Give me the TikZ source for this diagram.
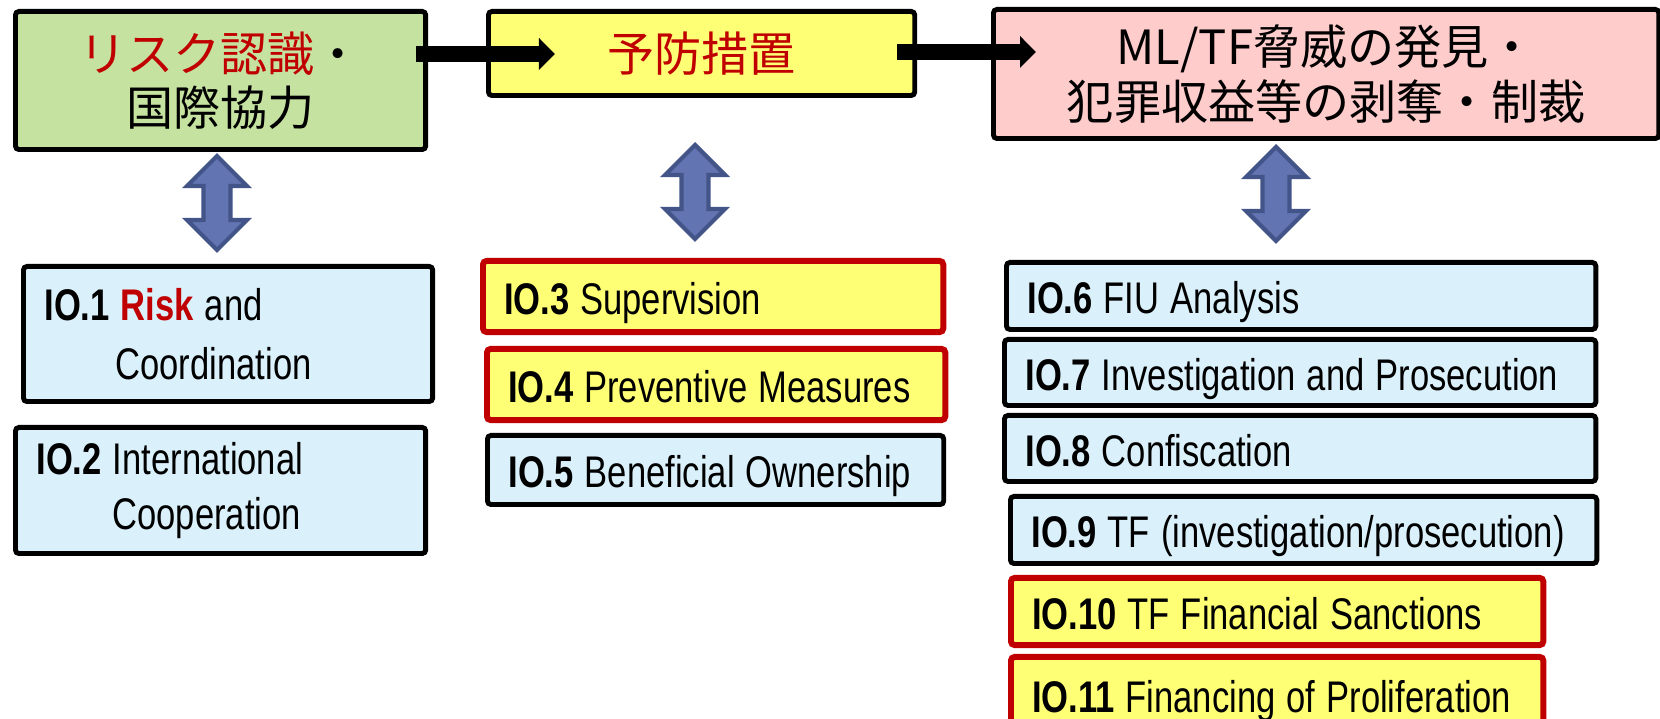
\documentclass[tikz,border=0pt]{standalone}
\usepackage{fontspec}
\usepackage{xcolor}
\usetikzlibrary{arrows.meta, positioning, calc}
\newfontfamily\jpfont{Noto Sans CJK JP}
\newfontfamily\iofont[FakeStretch=0.78]{Liberation Sans}
\definecolor{greenFill}{RGB}{197, 226, 160}
\definecolor{topYellow}{RGB}{255, 255, 117}
\definecolor{pinkFill}{RGB}{255, 204, 204}
\definecolor{ioBlue}{RGB}{218, 240, 250}
\definecolor{keyYellow}{RGB}{255, 255, 117}
\definecolor{riskRed}{RGB}{192, 0, 0}
\definecolor{arrowBlue}{RGB}{98, 117, 178}
\definecolor{arrowEdge}{RGB}{66, 84, 136}

\begin{document}
\begin{tikzpicture}[x=0.01cm, y=-0.01cm]

% Style definitions
\tikzset{
    topbox/.style={
        rectangle, draw=black, line width=1.4pt, anchor=north west, inner sep=0pt,
        align=center, rounded corners=1pt, font={\jpfont\fontsize{13.4pt}{15.5pt}\selectfont}
    },
    iobox/.style={
        rectangle, draw=black, line width=1.4pt, fill=ioBlue, anchor=north west,
        inner xsep=0.21cm, inner ysep=0pt, align=left, rounded corners=1pt,
        font={\iofont\fontsize{12.6pt}{15.5pt}\selectfont},
        execute at begin node={\spaceskip=0.25em plus 0.05em\relax}
    },
    oneline/.style={text height=0.40cm, text depth=0.04cm},
    keybox/.style={iobox, draw=riskRed, line width=1.7pt, fill=keyYellow},
    flow/.style={draw=black, line width=0.16cm, -{Triangle[length=0.16cm, width=0.31cm]}},
    updownline/.style={fill=arrowBlue, draw=arrowEdge, line width=1.2pt, line join=miter},
    updown/.pic={
        \draw [updownline] (0,-47) -- (30,-17) -- (13.5,-17) -- (13.5,17) -- (30,17) -- (0,47)
            -- (-30,17) -- (-13.5,17) -- (-13.5,-17) -- (-30,-17) -- cycle;
    }
}

\useasboundingbox (0,0) rectangle (1660,719);

% Top row
\node (risk) [topbox, fill=greenFill, minimum width=4.10cm, minimum height=1.38cm] at (13,9)
    {\textcolor{riskRed}{リスク認識}・\\国際協力};
\node (prev) [topbox, fill=topYellow, minimum width=4.26cm, minimum height=0.84cm] at (486,9)
    {\textcolor{riskRed}{予防措置}};
\node (detect) [topbox, fill=pinkFill, minimum width=6.65cm, minimum height=1.29cm] at (991,7)
    {ML/TF脅威の発見・\\犯罪収益等の剥奪・制裁};

% Immediate outcomes, left
\node (io1) [iobox, text width=3.67cm, minimum height=1.35cm] at (21,264)
    {\textbf{IO.1} \textcolor{riskRed}{\textbf{Risk}} and\\[0.05cm]\hspace*{0.71cm}Coordination};
\node (io2) [iobox, text width=3.68cm, minimum height=1.26cm] at (13,425)
    {\textbf{IO.2} International\\\hspace*{0.76cm}Cooperation};

% Immediate outcomes, middle
\node (io3) [keybox, oneline, text width=4.18cm, minimum height=0.71cm] at (480,258) {\textbf{IO.3} Supervision};
\node (io4) [keybox, oneline, text width=4.16cm, minimum height=0.71cm] at (484,346) {\textbf{IO.4} Preventive Measures};
\node (io5) [iobox, oneline, text width=4.14cm, minimum height=0.69cm] at (485,433) {\textbf{IO.5} Beneficial Ownership};

% Immediate outcomes, right
\node (io6) [iobox, oneline, text width=5.47cm, minimum height=0.67cm] at (1004,260) {\textbf{IO.6} FIU Analysis};
\node (io7) [iobox, oneline, text width=5.49cm, minimum height=0.66cm] at (1002,337) {\textbf{IO.7} Investigation and Prosecution};
\node (io8) [iobox, oneline, text width=5.49cm, minimum height=0.66cm] at (1002,413) {\textbf{IO.8} Confiscation};
\node (io9) [iobox, oneline, text width=5.44cm, minimum height=0.67cm] at (1008,494) {\textbf{IO.9} TF (investigation/prosecution)};
\node (io10) [keybox, oneline, text width=4.90cm, minimum height=0.67cm] at (1008,575) {\textbf{IO.10} TF Financial Sanctions};
\node (io11) [keybox, oneline, text width=4.90cm, minimum height=0.74cm] at (1008,654) {\textbf{IO.11} Financing of Proliferation};

% Connections
\draw [flow] ($(risk.north east)+(-12,45)$) -- ($(prev.north west)+(69,45)$);
\draw [flow] ($(prev.north east)+(-20,43)$) -- ($(detect.north west)+(45,45)$);

\pic at (217,203) {updown};
\pic at (695,192) {updown};
\pic at (1276,194) {updown};

\end{tikzpicture}
\end{document}
